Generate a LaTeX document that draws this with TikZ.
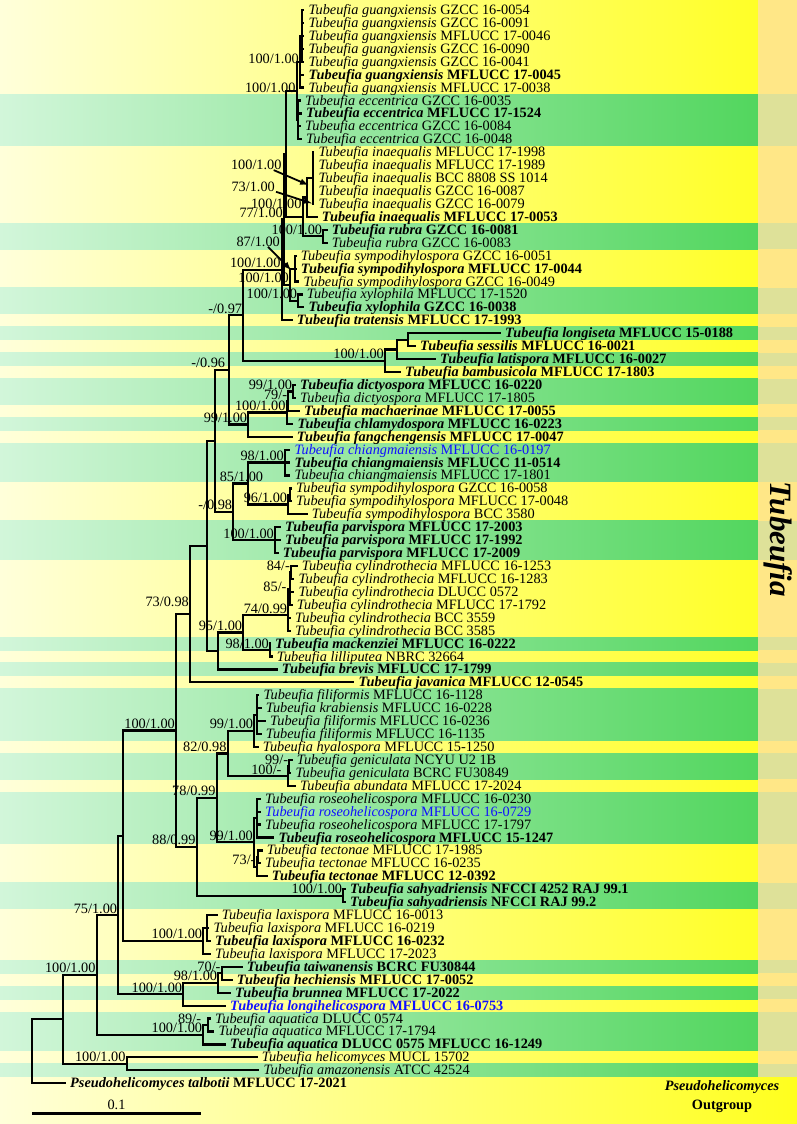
\documentclass[tikz,border=0pt]{standalone}
\usepackage{fontspec}
\setmainfont{Liberation Serif}
\usetikzlibrary{calc}

\definecolor{paleyellow}{HTML}{FFFFDA}
\definecolor{brightyellow}{HTML}{FFFF1E}
\definecolor{palegreen}{HTML}{D2F6DA}
\definecolor{deepgreen}{HTML}{52D65E}
\definecolor{stripyellow}{HTML}{FFE787}
\definecolor{stripgreen}{HTML}{DEE199}
\definecolor{refblue}{HTML}{1010FF}

\newcommand\lbl{\fontsize{14.3}{16}\selectfont}

\tikzset{
	branch/.style = {line width = 2.2pt},
	pointer/.style = {->, line width = 1.8pt},
	tipn/.style = {anchor = base west, inner sep = 0pt, xshift = 4pt, yshift = -4.5pt, font = \lbl},
	tipb/.style = {tipn, font = \lbl\bfseries},
	tipu/.style = {tipn, text = refblue},
	tipv/.style = {tipb, text = refblue},
	support/.style = {anchor = base east, inner sep = 0pt, xshift = -1pt, yshift = 2pt, font = \lbl},
}

\begin{document}
\begin{tikzpicture}[x = 1pt, y = -1pt, > = latex]

	% Definitions

	\def\rowsep{12.93}		% Distance between rows
	\def\rowy#1{10 + (#1 - 1) * \rowsep}
	\def\greenrows{8/11, 18/19, 23/24, 26/26, 28/28, 30/31, 33/33, 35/37, 41/43, 50/50, 52/52, 54/57, 59/60, 62/65, 69/70, 75/75, 77/77, 79/81, 83/83}
	\def\clade#1#2#3#4{
		\coordinate (#1x) at (#2, 0);
		\path ($(#3)!0.5!(#4)$) coordinate (#1m);
		\coordinate (#1) at (#1x |- #1m);
	}

	\useasboundingbox (0, 0) rectangle (797, 1124);

	% Background bands

	\shade [left color = paleyellow, right color = brightyellow] (0, 0) rectangle (797, 1124);

	\foreach \a/\b in \greenrows
		\shade [left color = palegreen, right color = deepgreen] (0, {\rowy{\a} - \rowsep/2}) rectangle (758, {\rowy{\b} + \rowsep/2});

	\fill [stripyellow] (758, 0) rectangle (797, {\rowy{83} + \rowsep/2});

	\foreach \a/\b in \greenrows
		\fill [stripgreen] (758, {\rowy{\a} - \rowsep/2}) rectangle (797, {\rowy{\b} + \rowsep/2});

	% Terminal taxa

	\foreach \r/\tx/\st/\sp/\sn in {1/308.3/n/guangxiensis/GZCC 16-0054,
		2/308.3/n/guangxiensis/GZCC 16-0091,
		3/308.3/n/guangxiensis/MFLUCC 17-0046,
		4/308.3/n/guangxiensis/GZCC 16-0090,
		5/308.3/n/guangxiensis/GZCC 16-0041,
		6/308.3/b/guangxiensis/MFLUCC 17-0045,
		7/308.3/n/guangxiensis/MFLUCC 17-0038,
		8/305/n/eccentrica/GZCC 16-0035,
		9/306/b/eccentrica/MFLUCC 17-1524,
		10/305/n/eccentrica/GZCC 16-0084,
		11/306/n/eccentrica/GZCC 16-0048,
		12/318.3/n/inaequalis/MFLUCC 17-1998,
		13/318.3/n/inaequalis/MFLUCC 17-1989,
		14/318.3/n/inaequalis/BCC 8808 SS 1014,
		15/318.3/n/inaequalis/GZCC 16-0087,
		16/318.3/n/inaequalis/GZCC 16-0079,
		17/321.7/b/inaequalis/MFLUCC 17-0053,
		18/331.7/b/rubra/GZCC 16-0081,
		19/331.7/n/rubra/GZCC 16-0083,
		20/300.7/n/sympodihylospora/GZCC 16-0051,
		21/300.7/b/sympodihylospora/MFLUCC 17-0044,
		22/303.3/n/sympodihylospora/GZCC 16-0049,
		23/306.7/n/xylophila/MFLUCC 17-1520,
		24/308.3/b/xylophila/GZCC 16-0038,
		25/296.7/b/tratensis/MFLUCC 17-1993,
		26/505/b/longiseta/MFLUCC 15-0188,
		27/420/b/sessilis/MFLUCC 16-0021,
		28/440/b/latispora/MFLUCC 16-0027,
		29/405/b/bambusicola/MFLUCC 17-1803,
		30/300/b/dictyospora/MFLUCC 16-0220,
		31/300/n/dictyospora/MFLUCC 17-1805,
		32/304/b/machaerinae/MFLUCC 17-0055,
		33/297.3/b/chlamydospora/MFLUCC 16-0223,
		34/296.7/b/fangchengensis/MFLUCC 17-0047,
		35/294.3/u/chiangmaiensis/MFLUCC 16-0197,
		36/294.3/b/chiangmaiensis/MFLUCC 11-0514,
		37/294.3/n/chiangmaiensis/MFLUCC 17-1801,
		38/296/n/sympodihylospora/GZCC 16-0058,
		39/296/n/sympodihylospora/MFLUCC 17-0048,
		40/311.7/n/sympodihylospora/BCC 3580,
		41/285/b/parvispora/MFLUCC 17-2003,
		42/285/b/parvispora/MFLUCC 17-1992,
		43/282.7/b/parvispora/MFLUCC 17-2009,
		44/301.7/n/cylindrothecia/MFLUCC 16-1253,
		45/298.3/n/cylindrothecia/MFLUCC 16-1283,
		46/298.3/n/cylindrothecia/DLUCC 0572,
		47/296.7/n/cylindrothecia/MFLUCC 17-1792,
		48/295/n/cylindrothecia/BCC 3559,
		49/295/n/cylindrothecia/BCC 3585,
		50/275/b/mackenziei/MFLUCC 16-0222,
		51/276.7/n/lilliputea/NBRC 32664,
		52/281.7/b/brevis/MFLUCC 17-1799,
		53/358.3/b/javanica/MFLUCC 12-0545,
		54/263.3/n/filiformis/MFLUCC 16-1128,
		55/265.7/n/krabiensis/MFLUCC 16-0228,
		56/270/n/filiformis/MFLUCC 16-0236,
		57/265.7/n/filiformis/MFLUCC 16-1135,
		58/262.7/n/hyalospora/MFLUCC 15-1250,
		59/296.7/n/geniculata/NCYU U2 1B,
		60/295.3/n/geniculata/BCRC FU30849,
		61/300/n/abundata/MFLUCC 17-2024,
		62/265/n/roseohelicospora/MFLUCC 16-0230,
		63/265/u/roseohelicospora/MFLUCC 16-0729,
		64/265/n/roseohelicospora/MFLUCC 17-1797,
		65/278.3/b/roseohelicospora/MFLUCC 15-1247,
		66/266.7/n/tectonae/MFLUCC 17-1985,
		67/265/n/tectonae/MFLUCC 16-0235,
		68/271.7/b/tectonae/MFLUCC 12-0392,
		69/350/b/sahyadriensis/NFCCI 4252 RAJ 99.1,
		70/350/b/sahyadriensis/NFCCI RAJ 99.2,
		71/221.7/n/laxispora/MFLUCC 16-0013,
		72/213.3/n/laxispora/MFLUCC 16-0219,
		73/215/b/laxispora/MFLUCC 16-0232,
		74/215/n/laxispora/MFLUCC 17-2023,
		75/246.7/b/taiwanensis/BCRC FU30844,
		76/236.7/b/hechiensis/MFLUCC 17-0052,
		77/235/b/brunnea/MFLUCC 17-2022,
		78/230/v/longihelicospora/MFLUCC 16-0753,
		79/215/n/aquatica/DLUCC 0574,
		80/218.3/n/aquatica/MFLUCC 17-1794,
		81/230/b/aquatica/DLUCC 0575 MFLUCC 16-1249,
		82/261.7/n/helicomyces/MUCL 15702,
		83/263.3/n/amazonensis/ATCC 42524}
	{
		\coordinate (t\r) at (\tx - 4, {\rowy{\r}});
		\node [tip\st] (l\r) at (t\r) {\textit{Tubeufia \sp} \sn};
	}

	\coordinate (t84) at (66, {\rowy{84}});
	\node [tipb] (l84) at (t84) {\textit{Pseudohelicomyces talbotii} MFLUCC 17-2021};

	% Internal nodes

	\clade{GXa}{301.7}{t1}{t5}
	\clade{GX}{300}{GXa}{t7}
	\clade{EC}{298.3}{t8}{t11}
	\clade{GE}{296.7}{GX}{EC}
	\clade{INa}{312.7}{t12}{t16}
	\clade{IN}{306.7}{INa}{t17}
	\clade{RU}{323.3}{t18}{t19}
	\clade{IR}{302.7}{IN}{RU}
	\clade{HB}{286}{GE}{IR}
	\clade{SYa}{295}{t20}{t22}
	\clade{XY}{298.3}{t23}{t24}
	\clade{SX}{290}{SYa}{XY}
	\clade{HS}{284}{HB}{SX}
	\clade{TC}{281.7}{HS}{t25}
	\clade{LOb}{408.3}{t26}{t27}
	\clade{LOa}{396.7}{LOb}{t28}
	\clade{LO}{385}{LOa}{t29}
	\clade{LT}{243.3}{TC}{LO}
	\clade{DI}{293.3}{t30}{t31}
	\clade{MCa}{288.3}{DI}{t32}
	\clade{MC}{286.7}{MCa}{t33}
	\clade{FC}{248.3}{MC}{t34}
	\clade{V}{229.3}{LT}{FC}
	\clade{CH}{285}{t35}{t37}
	\clade{SYb}{290}{t38}{t39}
	\clade{SY}{288.3}{SYb}{t40}
	\clade{Q}{248.3}{CH}{SY}
	\clade{PV}{275}{t41}{t43}
	\clade{P}{233.3}{Q}{PV}
	\clade{U}{215}{V}{P}
	\clade{CYb}{291}{t44}{t45}
	\clade{CYa}{289.7}{CYb}{t47}
	\coordinate (CY) at (288.3, 615);
	\clade{MK}{270}{t50}{t51}
	\clade{N}{243.3}{CY}{MK}
	\clade{M}{218.3}{N}{t52}
	\clade{K}{206.7}{U}{M}
	\clade{J}{190}{K}{t53}
	\clade{FIa}{256.7}{t54}{t57}
	\clade{FI}{254.3}{FIa}{t58}
	\clade{GN}{289.3}{t59}{t60}
	\clade{GA}{287.7}{GN}{t61}
	\clade{HE}{227.7}{FI}{GA}
	\clade{RO}{257}{t62}{t65}
	\clade{TEa}{258.3}{t66}{t67}
	\clade{TE}{256.7}{TEa}{t68}
	\clade{RT}{254}{RO}{TE}
	\clade{G}{216.7}{HE}{RT}
	\clade{SA}{343.3}{t69}{t70}
	\clade{F}{196.7}{G}{SA}
	\clade{E}{176}{J}{F}
	\clade{La}{206.7}{t71}{t73}
	\clade{L}{203.3}{La}{t74}
	\clade{W}{123.3}{E}{L}
	\clade{TH}{221.7}{t75}{t76}
	\clade{TBa}{218.3}{TH}{t77}
	\clade{TB}{183.3}{TBa}{t78}
	\clade{D}{118.3}{W}{TB}
	\clade{AQa}{208.3}{t79}{t80}
	\clade{AQ}{203.3}{AQa}{t81}
	\clade{C}{96.7}{D}{AQ}
	\clade{HA}{126.7}{t82}{t83}
	\clade{B}{63.3}{C}{HA}
	\clade{R}{32.3}{B}{t84}

	% Branches

	\foreach \p/\c in {GXa/t1, GXa/t2, GXa/t3, GXa/t4, GXa/t5, GX/GXa, GX/t6, GX/t7,
		EC/t8, EC/t9, EC/t10, EC/t11, GE/GX, GE/EC,
		INa/t12, INa/t13, INa/t14, INa/t15, INa/t16, IN/INa, IN/t17,
		RU/t18, RU/t19, IR/IN, IR/RU, HB/GE, HB/IR,
		SYa/t20, SYa/t21, SYa/t22, XY/t23, XY/t24, SX/SYa, SX/XY,
		HS/HB, HS/SX, TC/HS, TC/t25,
		LOb/t26, LOb/t27, LOa/LOb, LOa/t28, LO/LOa, LO/t29, LT/TC, LT/LO,
		DI/t30, DI/t31, MCa/DI, MCa/t32, MC/MCa, MC/t33, FC/MC, FC/t34, V/LT, V/FC,
		CH/t35, CH/t36, CH/t37, SYb/t38, SYb/t39, SY/SYb, SY/t40, Q/CH, Q/SY,
		PV/t41, PV/t42, PV/t43, P/Q, P/PV, U/V, U/P,
		CYb/t44, CYb/t45, CYa/CYb, CYa/t46, CYa/t47, CY/CYa, CY/t48, CY/t49,
		MK/t50, MK/t51, N/CY, N/MK, M/N, M/t52, K/U, K/M, J/K, J/t53,
		FIa/t54, FIa/t55, FIa/t56, FIa/t57, FI/FIa, FI/t58,
		GN/t59, GN/t60, GA/GN, GA/t61, HE/FI, HE/GA,
		RO/t62, RO/t63, RO/t64, RO/t65, TEa/t66, TEa/t67, TE/TEa, TE/t68, RT/RO, RT/TE,
		G/HE, G/RT, SA/t69, SA/t70, F/G, F/SA, E/J, E/F,
		La/t71, La/t72, La/t73, L/La, L/t74, W/E, W/L,
		TH/t75, TH/t76, TBa/TH, TBa/t77, TB/TBa, TB/t78, D/W, D/TB,
		AQa/t79, AQa/t80, AQ/AQa, AQ/t81, C/D, C/AQ,
		HA/t82, HA/t83, B/C, B/HA, R/B, R/t84}
		\draw [branch] (\p) |- (\c);

	% Support values

	\foreach \n/\a/\b in {HS/77/1.00, RU/100/1.00, TC/100/1.00, SX/100/1.00, XY/100/1.00,
		LT/-/0.97, LO/100/1.00, DI/99/1.00, MCa/79/-, MC/100/1.00, FC/99/1.00,
		CH/98/1.00, SY/96/1.00, PV/100/1.00, P/-/0.98, CYb/84/-, CY/74/0.99,
		MK/98/1.00, N/95/1.00, E/100/1.00, FI/99/1.00, HE/82/0.98, GN/99/-,
		G/78/0.99, RT/99/1.00, TE/73/-, F/88/0.99, SA/100/1.00, L/100/1.00,
		D/75/1.00, C/100/1.00, TH/70/-, TBa/98/1.00, TB/100/1.00, AQ/100/1.00, HA/100/1.00}
		\node [support] (s\n) at (\n) {\a/\b};

	\node [support, yshift = -4pt] (sGX) at (GX) {100/1.00};
	\node [support, yshift = -4pt] (sGE) at (GE) {100/1.00};
	\node [support, yshift = 6pt] (sIR) at (IR) {100/1.00};
	\node [support, xshift = -3pt] (sV) at (V) {-/0.96};
	\node [support, xshift = 16pt] (sQ) at (Q) {85/1.00};
	\node [support, xshift = -2pt, yshift = -5pt] (sCYa) at (CYa) {85/-};
	\node [support, yshift = 6pt] (sJ) at (J) {73/0.98};
	\node [support, xshift = -5pt] (sGA) at (GA) {100/-};
	\node [support, xshift = -6pt] (sAQa) at (AQa) {89/-};

	% Pointed support values

	\node [support] (sA) at (282.7, 171.7) {100/1.00};
	\node [support] (sB) at (276, 193.4) {73/1.00};
	\node [support] (sC) at (281, 248.4) {87/1.00};

	\coordinate (pA) at (308.3, 185);
	\coordinate (pB) at (311.7, 203.3);
	\coordinate (pC) at (291, 270);

	\draw [pointer] ([xshift = -8pt] sA.south east) -- (pA);
	\draw [pointer] ([xshift = 1pt] sB.south east) -- (pB);
	\draw [pointer] ([xshift = -12pt] sC.south east) -- (pC);

	% Scale bar

	\coordinate (sbl) at (32, 1113.3);
	\coordinate (sbr) at (201, 1113.3);
	\draw [line width = 3pt] (sbl) -- node [above = 2pt, inner sep = 0pt, font = \lbl] (sbtext) {0.1} (sbr);

	% Group labels

	\node [rotate = -90, font = \fontsize{31}{31}\selectfont\bfseries\itshape] (genus) at (778, 539) {Tubeufia};
	\node [font = \lbl\bfseries\itshape] (outgenus) at (722, 1087) {Pseudohelicomyces};
	\node [font = \lbl\bfseries] (outgroup) at (722, 1106) {Outgroup};

\end{tikzpicture}
\end{document}
